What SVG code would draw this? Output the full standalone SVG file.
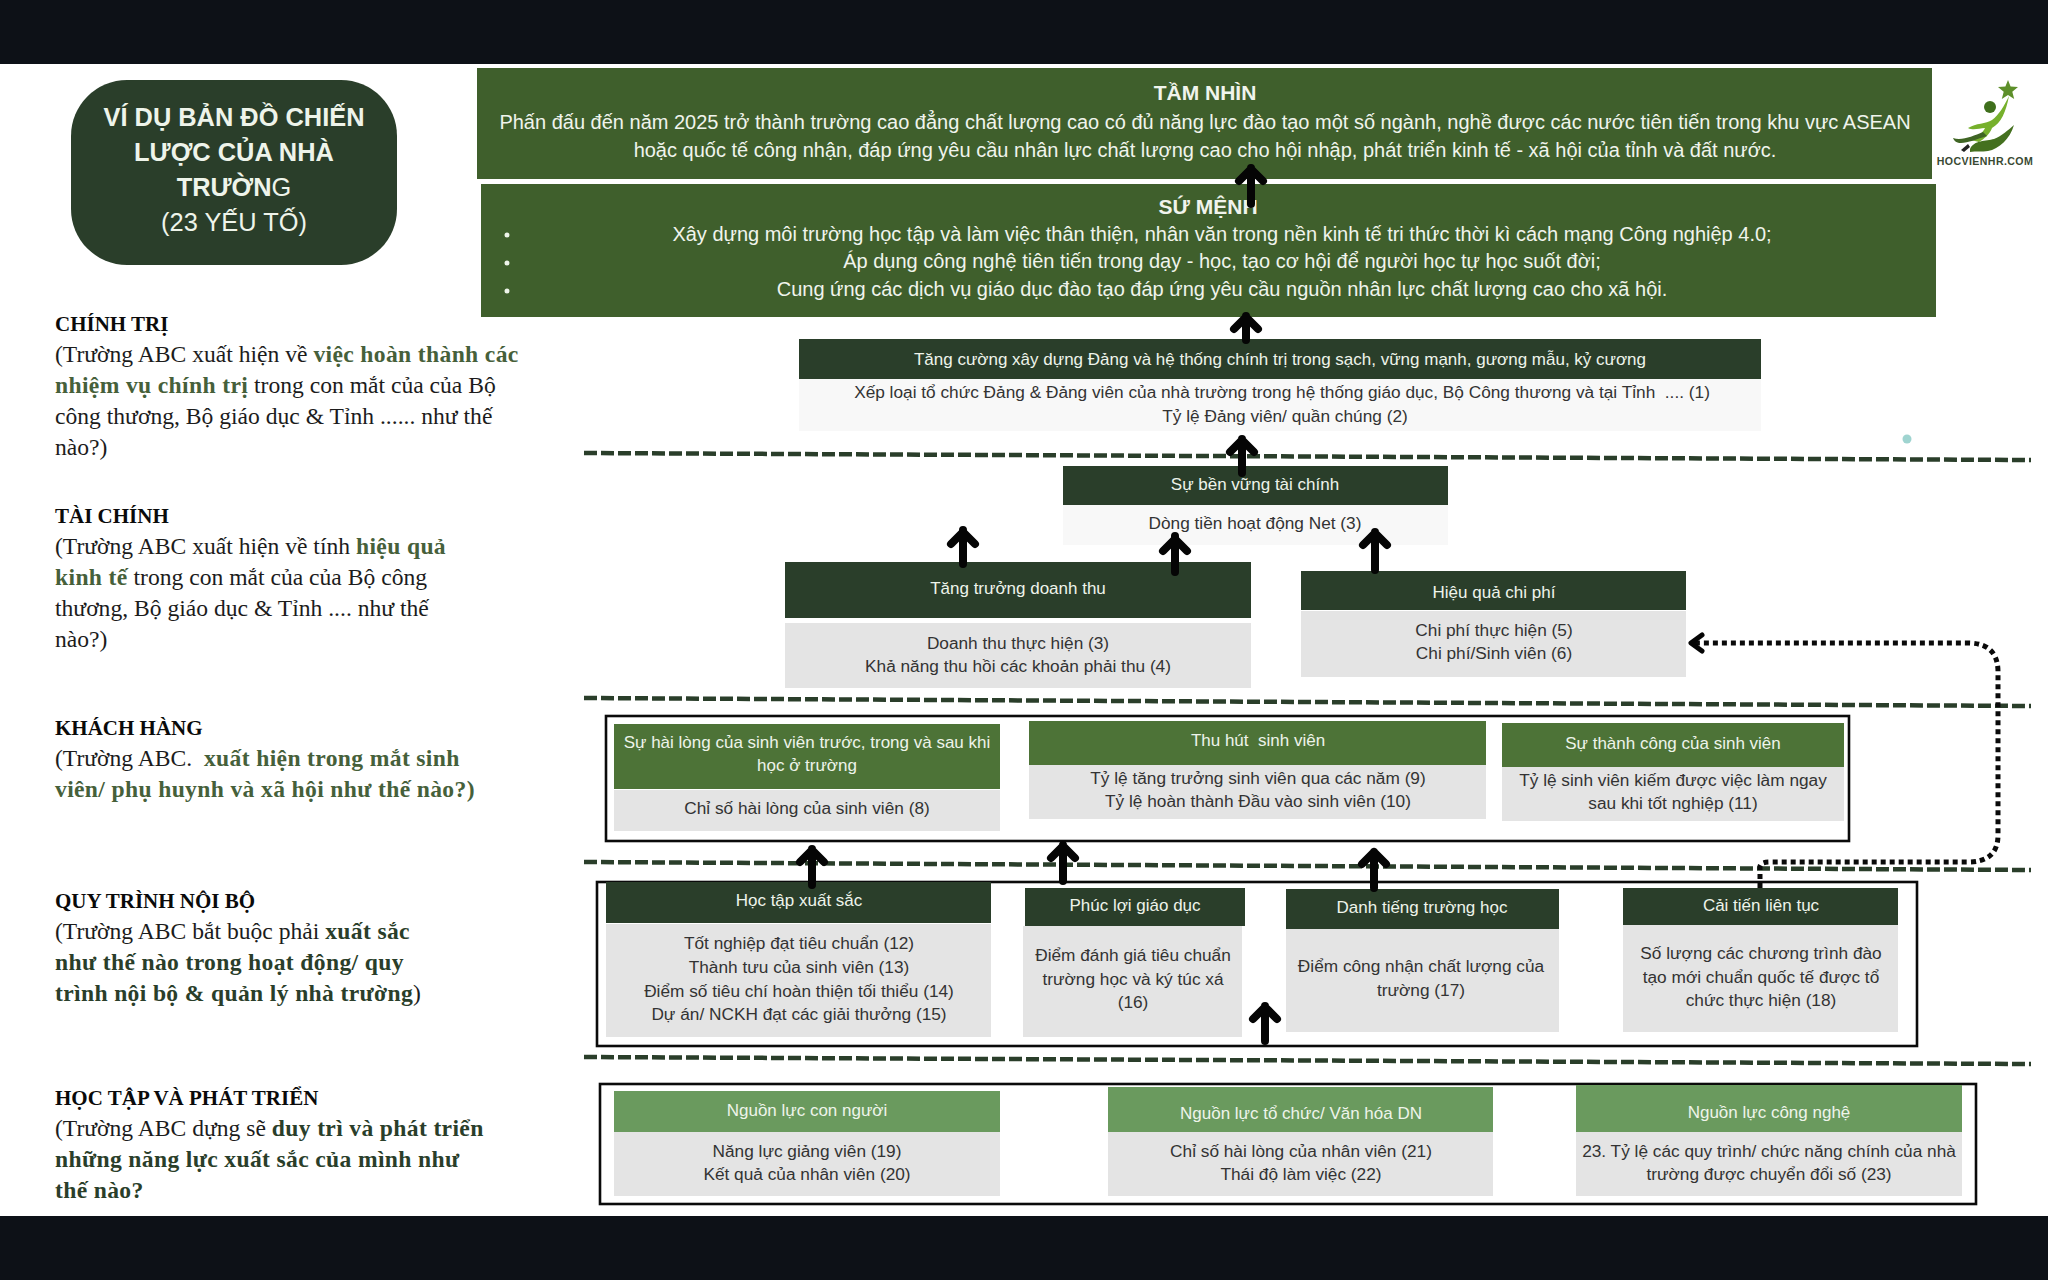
<svg xmlns="http://www.w3.org/2000/svg" width="2048" height="1280" viewBox="0 0 2048 1280">
<style>
text{font-family:"Liberation Sans",Arial,sans-serif;text-anchor:middle}
.dk{fill:#2a3e2a}.md{fill:#3f5f2c}.gr{fill:#4d7337}.lt{fill:#6a9a5e}.bd{fill:#e4e4e4}.pl{fill:#f8f8f8}
.h{font-size:17px;fill:#eef4ea}.b{font-size:17.25px;fill:#333333}.v{font-size:20px;fill:#f0f4ec}
.vb{font-size:21px;font-weight:bold;fill:#f0f4ec}
.t{font-size:25.4px;fill:#eef4ea}
.s{font-family:"Liberation Serif","Times New Roman",serif;font-size:23.6px;fill:#1c1c1c;text-anchor:start}
.sh{font-weight:bold;font-size:21px;fill:#0a0a0a}.g1{font-weight:bold;fill:#46603a;letter-spacing:.35px}.g2{font-weight:bold;fill:#2a3e2a;letter-spacing:.35px}
.out{fill:none;stroke:#0a0a0a;stroke-width:2.6}
.dash{fill:none;stroke:#2a3e2a;stroke-width:4.5;stroke-dasharray:13 4}
.arr{fill:none;stroke:#050505;stroke-width:8;stroke-linecap:round;stroke-linejoin:round}
.dot{fill:none;stroke:#0a0a0a;stroke-width:5;stroke-dasharray:5 4}
</style>
<rect width="2048" height="1280" fill="#ffffff"/>
<rect width="2048" height="64" fill="#0d1117"/>
<rect y="1216" width="2048" height="64" fill="#0d1117"/>

<g id="title">
<rect x="71" y="80" width="326" height="185" rx="56" class="dk"/>
<text class="t" x="234" y="126" font-weight="bold">VÍ DỤ BẢN ĐỒ CHIẾN</text>
<text class="t" x="234" y="161" font-weight="bold">LƯỢC CỦA NHÀ</text>
<text class="t" x="234" y="196"><tspan font-weight="bold">TRƯỜN</tspan>G</text>
<text class="t" x="234" y="231">(23 YẾU TỐ)</text>
</g>

<g id="left-chinh-tri">
<text class="s" x="55" y="331"><tspan class="sh">CHÍNH TRỊ</tspan></text>
<text class="s" x="55" y="362">(Trường ABC xuất hiện về <tspan class="g1">việc hoàn thành các</tspan></text>
<text class="s" x="55" y="393"><tspan class="g1">nhiệm vụ chính trị</tspan> trong con mắt của của Bộ</text>
<text class="s" x="55" y="424">công thương, Bộ giáo dục &amp; Tỉnh ...... như thế</text>
<text class="s" x="55" y="455">nào?)</text>
</g>
<g id="left-tai-chinh">
<text class="s" x="55" y="523"><tspan class="sh">TÀI CHÍNH</tspan></text>
<text class="s" x="55" y="554">(Trường ABC xuất hiện về tính <tspan class="g1">hiệu quả</tspan></text>
<text class="s" x="55" y="585"><tspan class="g1">kinh tế</tspan> trong con mắt của của Bộ công</text>
<text class="s" x="55" y="616">thương, Bộ giáo dục &amp; Tỉnh .... như thế</text>
<text class="s" x="55" y="647">nào?)</text>
</g>
<g id="left-khach-hang">
<text class="s" x="55" y="735"><tspan class="sh">KHÁCH HÀNG</tspan></text>
<text class="s" x="55" y="766" xml:space="preserve">(Trường ABC.  <tspan class="g1">xuất hiện trong mắt sinh</tspan></text>
<text class="s" x="55" y="797"><tspan class="g1">viên/ phụ huynh và xã hội như thế nào?)</tspan></text>
</g>
<g id="left-quy-trinh">
<text class="s" x="55" y="908"><tspan class="sh">QUY TRÌNH NỘI BỘ</tspan></text>
<text class="s" x="55" y="939">(Trường ABC bắt buộc phải <tspan class="g2">xuất sắc</tspan></text>
<text class="s" x="55" y="970"><tspan class="g2">như thế nào trong hoạt động/ quy</tspan></text>
<text class="s" x="55" y="1001"><tspan class="g2">trình nội bộ &amp; quản lý nhà trường</tspan>)</text>
</g>
<g id="left-hoc-tap">
<text class="s" x="55" y="1105"><tspan class="sh">HỌC TẬP VÀ PHÁT TRIỂN</tspan></text>
<text class="s" x="55" y="1136">(Trường ABC dựng sẽ <tspan class="g2">duy trì và phát triển</tspan></text>
<text class="s" x="55" y="1167"><tspan class="g2">những năng lực xuất sắc của mình như</tspan></text>
<text class="s" x="55" y="1198"><tspan class="g2">thế nào?</tspan></text>
</g>

<g id="logo">
<path d="M2008 80l2.6 6.6 7.4.5-5.700 4.700 1.900 7.200-6.200-4-6.200 4 1.900-7.200-5.700-4.700 7.400-.5z" fill="#5d8f2a"/>
<circle cx="1990" cy="107" r="6" fill="#3f6f1c"/>
<path d="M2009 96c-3 16-8 27-17 32-2 6-8 11-13 14l-8-2c6-3 12-7 14-12-6 0-11 3-17 0 8-5 18-4 24-8 7-5 12-14 17-24z" fill="#76b02c"/>
<path d="M1953 138c9 3 20-2 30-6l4 4c-10 3-19 7-26 7-4 0-7-2-8-5z" fill="#3f6524"/>
<path d="M1970 149c4-9 16-8 24-10 8-3 14-9 20-14-4 14-15 24-26 26-6 1-12 0-18 1z" fill="#44701f"/>
<path d="M1961 150l7-6 2 3-6 5z" fill="#222"/>
<text x="1985" y="165" font-size="10.6" font-weight="bold" fill="#3a4a33" letter-spacing=".4">HOCVIENHR.COM</text>
</g>

<g id="tam-nhin">
<rect x="477" y="68" width="1455" height="111" class="md"/>
<text class="vb" x="1205" y="100">TẦM NHÌN</text>
<text class="v" x="1205" y="129">Phấn đấu đến năm 2025 trở thành trường cao đẳng chất lượng cao có đủ năng lực đào tạo một số ngành, nghề được các nước tiên tiến trong khu vực ASEAN</text>
<text class="v" x="1205" y="157">hoặc quốc tế công nhận, đáp ứng yêu cầu nhân lực chất lượng cao cho hội nhập, phát triển kinh tế - xã hội của tỉnh và đất nước.</text>
</g>
<g id="su-menh">
<rect x="481" y="184" width="1455" height="133" class="md"/>
<text class="vb" x="1208" y="214">SỨ MỆNH</text>
<circle cx="507" cy="235" r="2.5" fill="#eef4ea"/><circle cx="507" cy="263" r="2.5" fill="#eef4ea"/><circle cx="507" cy="291" r="2.500" fill="#eef4ea"/>
<text class="v" x="1222" y="241">Xây dựng môi trường học tập và làm việc thân thiện, nhân văn trong nền kinh tế tri thức thời kì cách mạng Công nghiệp 4.0;</text>
<text class="v" x="1222" y="268">Áp dụng công nghệ tiên tiến trong dạy - học, tạo cơ hội để người học tự học suốt đời;</text>
<text class="v" x="1222" y="296">Cung ứng các dịch vụ giáo dục đào tạo đáp ứng yêu cầu nguồn nhân lực chất lượng cao cho xã hội.</text>
</g>
<g id="dang">
<rect x="799" y="339" width="962" height="40" class="dk"/><rect x="799" y="379" width="962" height="52" class="pl"/>
<text class="h" x="1280" y="365">Tăng cường xây dựng Đảng và hệ thống chính trị trong sạch, vững mạnh, gương mẫu, kỷ cương</text>
<text class="b" x="1282" y="398" xml:space="preserve">Xếp loại tổ chức Đảng &amp; Đảng viên của nhà trường trong hệ thống giáo dục, Bộ Công thương và tại Tỉnh  .... (1)</text>
<text class="b" x="1285" y="422">Tỷ lệ Đảng viên/ quần chúng (2)</text>
</g>
<g id="ben-vung">
<rect x="1063" y="466" width="385" height="39" class="dk"/><rect x="1063" y="505" width="385" height="40" class="pl"/>
<text class="h" x="1255" y="490">Sự bền vững tài chính</text>
<text class="b" x="1255" y="529">Dòng tiền hoạt động Net (3)</text>
</g>
<g id="doanh-thu">
<rect x="785" y="562" width="466" height="56" class="dk"/><rect x="785" y="623" width="466" height="65" class="bd"/>
<text class="h" x="1018" y="594">Tăng trưởng doanh thu</text>
<text class="b" x="1018" y="649">Doanh thu thực hiện (3)</text>
<text class="b" x="1018" y="672">Khả năng thu hồi các khoản phải thu (4)</text>
</g>
<g id="chi-phi">
<rect x="1301" y="571" width="385" height="39" class="dk"/><rect x="1301" y="611" width="385" height="66" class="bd"/>
<text class="h" x="1494" y="598">Hiệu quả chi phí</text>
<text class="b" x="1494" y="636">Chi phí thực hiện (5)</text>
<text class="b" x="1494" y="659">Chi phí/Sinh viên (6)</text>
</g>
<rect x="606" y="716" width="1243" height="125" class="out"/>
<g id="hai-long">
<rect x="614" y="724" width="386" height="65" class="gr"/><rect x="614" y="790" width="386" height="41" class="bd"/>
<text class="h" x="742" y="748" dx="0"><tspan x="742" dx="0"></tspan></text>
<text class="h" x="742" y="748" style="display:none"></text>
<text class="h" x="742" y="748" transform="translate(0 0)" opacity="0"></text>
<text class="h" x="807" y="748">Sự hài lòng của sinh viên trước, trong và sau khi</text>
<text class="h" x="807" y="771">học ở trường</text>
<text class="b" x="807" y="814">Chỉ số hài lòng của sinh viên (8)</text>
</g>
<g id="thu-hut">
<rect x="1029" y="721" width="457" height="44" class="gr"/><rect x="1029" y="765" width="457" height="54" class="bd"/>
<text class="h" x="1258" y="746" xml:space="preserve">Thu hút  sinh viên</text>
<text class="b" x="1258" y="784">Tỷ lệ tăng trưởng sinh viên qua các năm (9)</text>
<text class="b" x="1258" y="807">Tỷ lệ hoàn thành Đầu vào sinh viên (10)</text>
</g>
<g id="thanh-cong">
<rect x="1502" y="723" width="342" height="44" class="gr"/><rect x="1502" y="767" width="342" height="54" class="bd"/>
<text class="h" x="1673" y="749">Sự thành công của sinh viên</text>
<text class="b" x="1673" y="786">Tỷ lệ sinh viên kiếm được việc làm ngay</text>
<text class="b" x="1673" y="809">sau khi tốt nghiệp (11)</text>
</g>
<rect x="597" y="882" width="1320" height="164" class="out"/>
<g id="hoc-tap-xuat-sac">
<rect x="606" y="882" width="385" height="41" class="dk"/><rect x="606" y="924" width="385" height="113" class="bd"/>
<text class="h" x="799" y="906">Học tập xuất sắc</text>
<text class="b" x="799" y="949">Tốt nghiệp đạt tiêu chuẩn (12)</text>
<text class="b" x="799" y="973">Thành tưu của sinh viên (13)</text>
<text class="b" x="799" y="997">Điểm số tiêu chí hoàn thiện tối thiểu (14)</text>
<text class="b" x="799" y="1020">Dự án/ NCKH đạt các giải thưởng (15)</text>
</g>
<g id="phuc-loi">
<rect x="1025" y="888" width="220" height="38" class="dk"/><rect x="1023" y="926" width="219" height="111" class="bd"/>
<text class="h" x="1135" y="911">Phúc lợi giáo dục</text>
<text class="b" x="1133" y="961">Điểm đánh giá tiêu chuẩn</text>
<text class="b" x="1133" y="985">trường học và ký túc xá</text>
<text class="b" x="1133" y="1008">(16)</text>
</g>
<g id="danh-tieng">
<rect x="1286" y="889" width="273" height="40" class="dk"/><rect x="1286" y="929" width="273" height="103" class="bd"/>
<text class="h" x="1422" y="913">Danh tiếng trường học</text>
<text class="b" x="1421" y="972">Điểm công nhận chất lượng của</text>
<text class="b" x="1421" y="996">trường (17)</text>
</g>
<g id="cai-tien">
<rect x="1623" y="888" width="275" height="37" class="dk"/><rect x="1623" y="925" width="275" height="107" class="bd"/>
<text class="h" x="1761" y="911">Cải tiến liên tục</text>
<text class="b" x="1761" y="959">Số lượng các chương trình đào</text>
<text class="b" x="1761" y="983">tạo mới chuẩn quốc tế được tổ</text>
<text class="b" x="1761" y="1006">chức thực hiện (18)</text>
</g>
<rect x="600" y="1084" width="1376" height="120" class="out"/>
<g id="con-nguoi">
<rect x="614" y="1091" width="386" height="41" class="lt"/><rect x="614" y="1132" width="386" height="64" class="bd"/>
<text class="h" x="807" y="1116">Nguồn lực con người</text>
<text class="b" x="807" y="1157">Năng lực giảng viên (19)</text>
<text class="b" x="807" y="1180">Kết quả của nhân viên (20)</text>
</g>
<g id="to-chuc">
<rect x="1108" y="1087" width="385" height="45" class="lt"/><rect x="1108" y="1132" width="385" height="64" class="bd"/>
<text class="h" x="1301" y="1119">Nguồn lực tổ chức/ Văn hóa DN</text>
<text class="b" x="1301" y="1157">Chỉ số hài lòng của nhân viên (21)</text>
<text class="b" x="1301" y="1180">Thái độ làm việc (22)</text>
</g>
<g id="cong-nghe">
<rect x="1576" y="1085" width="386" height="47" class="lt"/><rect x="1576" y="1132" width="386" height="64" class="bd"/>
<text class="h" x="1769" y="1118">Nguồn lực công nghệ</text>
<text class="b" x="1769" y="1157">23. Tỷ lệ các quy trình/ chức năng chính của nhà</text>
<text class="b" x="1769" y="1180">trường được chuyển đổi số (23)</text>
</g>
<circle id="dot" cx="1907" cy="439" r="4.5" fill="#9fd4d0"/>
<g id="connectors">
<path class="dash" d="M584 453L2031 460M584 698L2031 706M584 862L2031 870M584 1057L2031 1064"/>
<path class="dot" d="M1760 888V866Q1761 862 1770 862H1968Q1998 862 1998 835V672Q1998 643 1968 643H1692"/>
<path class="arr" style="stroke-width:5" d="M1702 635L1691 643L1702 651"/>
<path class="arr" d="M1251 204V168M1239 181L1251 169L1263 181"/>
<path class="arr" d="M1246 340V316M1234 329L1246 317L1258 329"/>
<path class="arr" d="M1242 473V439M1230 452L1242 440L1254 452"/>
<path class="arr" d="M963 564V530M951 544L963 532L975 544"/>
<path class="arr" d="M1175 572V536M1163 551L1175 539L1187 551"/>
<path class="arr" d="M1375 570V532M1363 545L1375 533L1387 545"/>
<path class="arr" d="M812 885V849M800 862L812 850L824 862"/>
<path class="arr" d="M1063 881V845M1051 858L1063 846L1075 858"/>
<path class="arr" d="M1374 888V852M1362 864L1374 852L1386 864"/>
<path class="arr" d="M1265 1041V1006M1253 1019L1265 1007L1277 1019"/>
</g>
</svg>
